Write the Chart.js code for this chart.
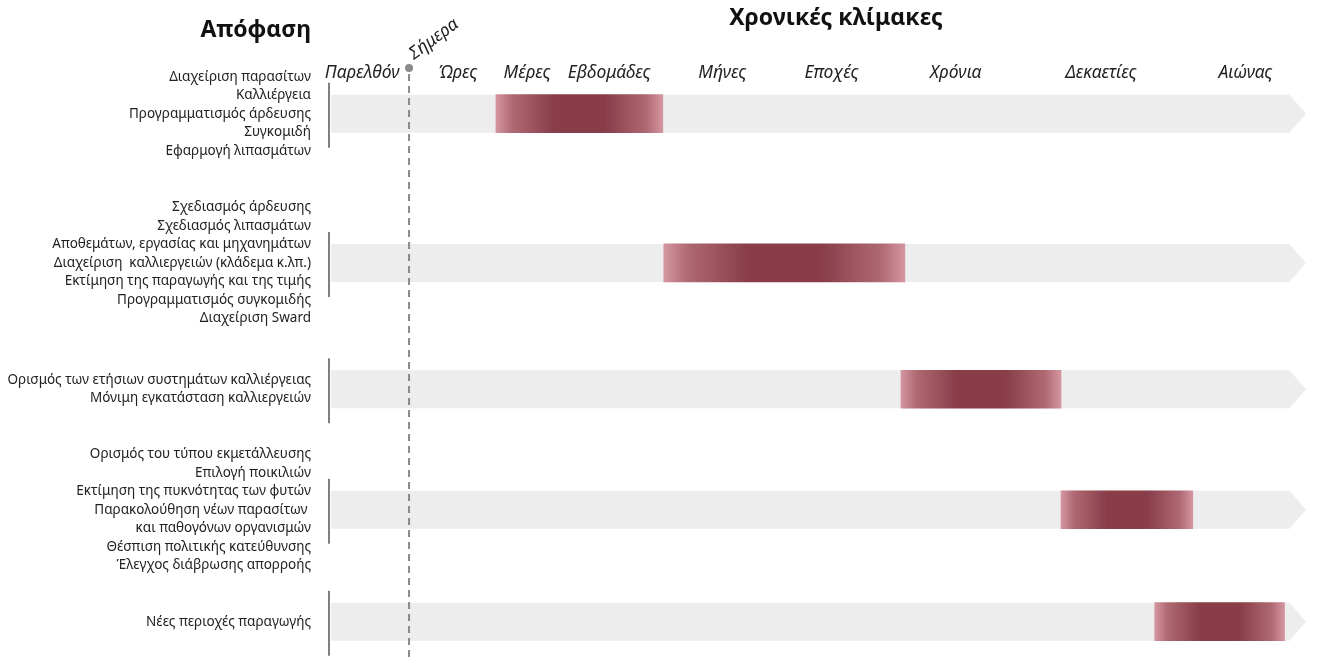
<!DOCTYPE html>
<html>
<head>
<meta charset="utf-8">
<script src="https://cdn.jsdelivr.net/npm/chart.js@4"></script>
<style>
  body { margin: 0; background: #fff; }
  #wrap { width: 1317px; height: 659px; position: relative; }
</style>
</head>
<body>
<div id="wrap"><canvas id="xronos"></canvas></div>
<script>
// Χρονικές κλίμακες αποφάσεων - timeline of decisions vs time scale
// x axis is an abstract 0..100 "time scale" (not linear in real time)

var scaleNames = ['Παρελθόν', 'Ώρες', 'Μέρες', 'Εβδομάδες', 'Μήνες', 'Εποχές', 'Χρόνια', 'Δεκαετίες', 'Αιώνας'];
var scalePos = [3.3, 13.1, 20.2, 28.6, 40.2, 51.4, 64.1, 79.0, 93.8];
var todayX = 8.1;

// one entry per group of decisions
var groupLabels = [
  ['Διαχείριση παρασίτων', 'Καλλιέργεια', 'Προγραμματισμός άρδευσης', 'Συγκομιδή', 'Εφαρμογή λιπασμάτων'],
  ['Σχεδιασμός άρδευσης', 'Σχεδιασμός λιπασμάτων', 'Αποθεμάτων, εργασίας και μηχανημάτων',
   'Διαχείριση  καλλιεργειών (κλάδεμα κ.λπ.)', 'Εκτίμηση της παραγωγής και της τιμής',
   'Προγραμματισμός συγκομιδής', 'Διαχείριση Sward'],
  ['Ορισμός των ετήσιων συστημάτων καλλιέργειας', 'Μόνιμη εγκατάσταση καλλιεργειών'],
  ['Ορισμός του τύπου εκμετάλλευσης', 'Επιλογή ποικιλιών', 'Εκτίμηση της πυκνότητας των φυτών',
   'Παρακολούθηση νέων παρασίτων ', 'και παθογόνων οργανισμών', 'Θέσπιση πολιτικής κατεύθυνσης',
   'Έλεγχος διάβρωσης απορροής'],
  ['Νέες περιοχές παραγωγής']
];
var bandY = [0.5, 3.1, 5.3, 7.4, 9.35];
var barStart = [17.0, 34.2, 58.5, 74.9, 84.5];
var barEnd = [34.1, 58.9, 74.9, 88.4, 97.8];
var arrowBodyEnd = 98.3;

var darkRed = 'rgb(135,60,72)';
var bars = [];
for (var i = 0; i < bandY.length; i++) {
  bars.push({ x: [barStart[i], barEnd[i]], y: bandY[i] });
}

function barGradient(c) {
  var chart = c.chart;
  if (!chart.chartArea || !c.raw) return darkRed;
  var sx = chart.scales.x;
  var x0 = sx.getPixelForValue(c.raw.x[0]);
  var x1 = sx.getPixelForValue(c.raw.x[1]);
  var g = chart.ctx.createLinearGradient(x0, 0, x1, 0);
  g.addColorStop(0, 'rgb(212,150,160)');
  g.addColorStop(0.1, 'rgb(175,105,115)');
  g.addColorStop(0.35, 'rgb(136,61,73)');
  g.addColorStop(0.65, 'rgb(136,61,73)');
  g.addColorStop(0.9, 'rgb(175,105,115)');
  g.addColorStop(1, 'rgb(212,150,160)');
  return g;
}

// gray arrows, group brackets, "today" line, titles
var extras = {
  id: 'extras',
  beforeDatasetsDraw: function (chart) {
    var ctx = chart.ctx, sx = chart.scales.x, sy = chart.scales.y, a = chart.chartArea;
    ctx.save();
    ctx.fillStyle = '#ededed';
    bandY.forEach(function (v) {
      var yc = sy.getPixelForValue(v), h = 19;
      var xl = a.left + 1, xb = sx.getPixelForValue(arrowBodyEnd), xt = sx.getPixelForValue(100);
      ctx.beginPath();
      ctx.moveTo(xl, yc - h);
      ctx.lineTo(xb, yc - h);
      ctx.lineTo(xt, yc);
      ctx.lineTo(xb, yc + h);
      ctx.lineTo(xl, yc + h);
      ctx.closePath();
      ctx.fill();
    });
    // brackets on the left of every band
    ctx.strokeStyle = '#7f7f7f';
    ctx.lineWidth = 2;
    bandY.forEach(function (v) {
      var yc = sy.getPixelForValue(v);
      ctx.beginPath();
      ctx.moveTo(a.left - 1, yc - 31);
      ctx.lineTo(a.left - 1, yc + 34);
      ctx.stroke();
    });
    ctx.restore();
  },
  afterDatasetsDraw: function (chart) {
    var ctx = chart.ctx, sx = chart.scales.x;
    var tx = sx.getPixelForValue(todayX);
    ctx.save();
    ctx.strokeStyle = '#8a8a8a';
    ctx.lineWidth = 2;
    ctx.setLineDash([7, 5]);
    ctx.beginPath();
    ctx.moveTo(tx, 74);
    ctx.lineTo(tx, chart.height);
    ctx.stroke();
    ctx.setLineDash([]);
    ctx.fillStyle = '#8a8a8a';
    ctx.beginPath();
    ctx.arc(tx, 68, 4, 0, Math.PI * 2);
    ctx.fill();

    ctx.fillStyle = '#222';
    ctx.translate(tx + 5, 60);
    ctx.rotate(-0.64);
    ctx.font = 'italic 17.5px "Noto Sans"';
    ctx.textAlign = 'left';
    ctx.textBaseline = 'alphabetic';
    ctx.fillText('Σήμερα', 0, 0);
    ctx.setTransform(chart.currentDevicePixelRatio, 0, 0, chart.currentDevicePixelRatio, 0, 0);

    ctx.font = 'bold 23px "Noto Sans"';
    ctx.fillStyle = '#111';
    ctx.textAlign = 'right';
    ctx.fillText('Απόφαση', 311, 37);
    ctx.textAlign = 'center';
    ctx.fillText('Χρονικές κλίμακες', 836, 25);
    ctx.restore();
  }
};

var chart = new Chart(document.getElementById('xronos'), {
  type: 'bar',
  data: {
    datasets: [{
      data: bars,
      backgroundColor: barGradient,
      borderWidth: 0,
      barThickness: 38
    }]
  },
  plugins: [extras],
  options: {
    indexAxis: 'y',
    responsive: true,
    maintainAspectRatio: false,
    animation: false,
    layout: { padding: { left: 0, right: 11, top: 0, bottom: 0 } },
    plugins: { legend: { display: false }, tooltip: { enabled: false } },
    scales: {
      x: {
        type: 'linear',
        position: 'top',
        min: 0,
        max: 100,
        grid: { display: false, drawTicks: false },
        border: { display: false },
        afterBuildTicks: function (s) { s.ticks = scalePos.map(function (v) { return { value: v }; }); },
        afterFit: function (s) { s.height = 85; s.paddingLeft = 0; s.paddingRight = 0; },
        ticks: {
          autoSkip: false,
          maxRotation: 0,
          minRotation: 0,
          padding: 1,
          color: '#222',
          font: { family: 'Noto Sans', size: 17.5, style: 'italic' },
          callback: function (v, i) { return scaleNames[i]; }
        }
      },
      y: {
        type: 'linear',
        reverse: true,
        offset: false,
        min: 0,
        max: 10,
        grid: { display: false, drawTicks: false, offset: false },
        border: { display: false },
        afterBuildTicks: function (s) { s.ticks = bandY.map(function (v) { return { value: v }; }); },
        afterFit: function (s) { s.width = 330; s.paddingTop = 0; s.paddingBottom = 0; },
        ticks: {
          autoSkip: false,
          padding: 19,
          color: '#222',
          font: { family: 'Noto Sans', size: 13.5, lineHeight: 1.37 },
          callback: function (v, i) { return groupLabels[i]; }
        }
      }
    }
  }
});
</script>
</body>
</html>
